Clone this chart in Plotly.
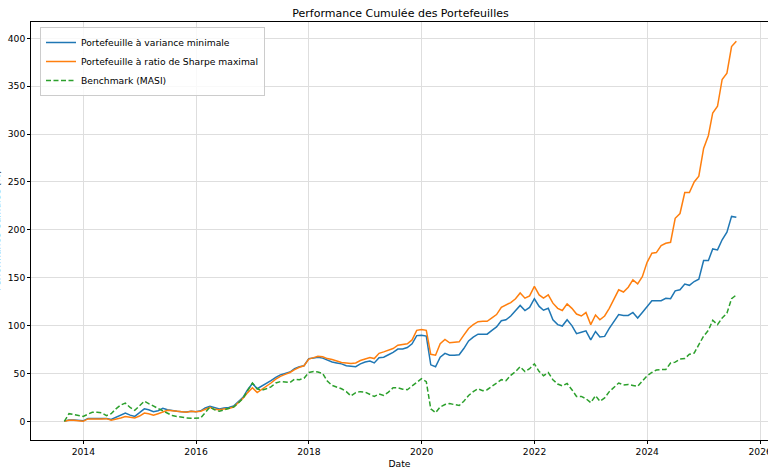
import pandas as pd
import plotly.graph_objects as go

# Monthly dates (month ends), Aug 2013 -> Jul 2025
dates = pd.date_range(start="2013-08-01", periods=144, freq="MS") + pd.offsets.MonthEnd(0)

min_variance = [
    0, 1.5, 1.5, 1, 0.5, 3, 3, 2.5, 2.5, 3, 2, 4, 6, 8.7, 6.5, 5.2, 9, 13, 12, 10,
    11, 13.5, 12, 11, 10.5, 10, 9.7, 10.5, 10,
    11, 14, 15.7, 14, 13, 14, 14.5, 16, 20, 25, 33, 39.5, 34, 36.5, 39, 42.5, 46,
    48.5, 50, 51.5, 55, 57, 58, 65.5,
    66, 67, 66, 64, 62, 61, 60, 58, 57.5, 57, 60, 62, 63, 61, 66.5, 67, 69.5, 72,
    75.5, 75.5, 77, 81, 89.5, 90, 89, 59, 57,
    67, 71, 69, 69, 69.5, 76, 84, 88, 91, 91, 91, 95, 98.6, 105, 106, 110, 116, 121,
    115.7, 119, 128, 120, 116, 118, 106, 101, 99.5, 106, 100, 91.5, 93, 94.5, 85,
    93.8, 88, 88.7, 97, 104.3, 111.5, 110.6, 110.6, 113.7, 107.8, 113.7, 120, 126,
    126, 126, 128.5, 128, 136.3, 137.4, 143.3, 142, 146, 148.5, 168, 168, 180, 179,
    189.6, 197.6, 214, 213,
]

max_sharpe = [
    0, 1, 1, 0.5, 0, 2.5, 2.8, 2.5, 2.5, 2.8, 1.2, 2, 3.5, 4.9, 4, 3.5, 5.5, 8.7, 8,
    6.3, 8, 10, 11.5, 11, 10.5, 10, 9.5, 10.4, 10,
    10.5, 12.5, 14.6, 12.5, 12, 13, 13.5, 15, 19, 24, 30, 35, 30, 33, 36, 40, 44,
    47, 49, 51, 54, 56.5, 58, 65,
    66.5, 68, 67.5, 65.5, 64.5, 63, 61.5, 61, 60.5, 61, 63.5, 65, 66.5, 65.5, 71,
    72.5, 74, 76, 79.5, 80, 81, 85, 95, 96, 95, 70, 69,
    81, 85.5, 82, 82.5, 83, 90, 97, 101, 104, 104.5, 104.5, 108, 111.5, 119, 121.6,
    124, 128, 134, 128.6, 131, 141, 132, 128.6, 132, 123.4, 118, 115.7, 122.7, 118,
    112, 110, 113.6, 101, 111, 106, 110, 118, 127, 137.3, 135, 140, 147.7, 143.5,
    151, 166, 175.5, 176.2, 183.5, 186, 187, 212, 217, 239, 239, 250, 256, 285,
    298.5, 322, 329, 357, 363.5, 391.3, 397,
]

benchmark = [
    0, 8, 7, 6, 5, 7.5, 9.4, 9.5, 9, 6, 8, 13, 17, 19, 14.5, 11.5, 16, 21, 18.5, 16,
    14, 11, 8.5, 6, 5, 4, 3.5, 3.2, 3.5,
    3.5, 9, 15, 12, 10.5, 12, 13.5, 15, 19, 24, 32, 40, 34, 32.5, 34, 36, 40, 41.5,
    41, 40.5, 44, 43.5, 45, 51,
    52, 51.5, 50, 42, 37.5, 35.5, 34, 31, 26.5, 30, 31, 30.5, 28, 26, 28.5, 27,
    30.5, 35, 35, 33.5, 33, 37, 41, 44.5, 41.5, 13, 9,
    15, 17.5, 18.5, 17.5, 16.5, 21, 27, 31, 34, 32, 33, 36.6, 40, 43.5, 42.5, 48,
    52, 57, 52, 55, 60, 52, 47.6, 51, 43.4, 39, 37, 39.5, 33, 26, 26, 23.6, 19.5,
    26.8, 21, 24.5, 31, 35.8, 40, 38, 38.5, 37.5, 36.5, 42, 47.5, 51, 53.5, 54, 54,
    60.9, 61.8, 65, 65.5, 70, 71.3, 80, 89, 95, 105.5, 101, 107.8, 113, 128, 132,
]

series_names = [
    "Portefeuille à variance minimale",
    "Portefeuille à ratio de Sharpe maximal",
    "Benchmark (MASI)",
]
y_ticks = [0, 50, 100, 150, 200, 250, 300, 350, 400]
x_ticks = ["2014-01-01", "2016-01-01", "2018-01-01", "2020-01-01",
           "2022-01-01", "2024-01-01", "2026-01-01"]
x_tick_text = ["2014", "2016", "2018", "2020", "2022", "2024", "2026"]

FONT = "DejaVu Sans"
W, H = 768, 475
L, R, T, B = 31, 0, 22, 35

fig = go.Figure()
fig.add_trace(go.Scatter(x=dates, y=min_variance, mode="lines", name=series_names[0],
                         line=dict(color="#1f77b4", width=1.5)))
fig.add_trace(go.Scatter(x=dates, y=max_sharpe, mode="lines", name=series_names[1],
                         line=dict(color="#ff7f0e", width=1.5)))
fig.add_trace(go.Scatter(x=dates, y=benchmark, mode="lines", name=series_names[2],
                         line=dict(color="#2ca02c", width=1.5, dash="5px,2.5px")))

axis_common = dict(
    showgrid=True, gridcolor="#dedede", gridwidth=0.8,
    showline=True, linecolor="black", linewidth=0.8, mirror=True,
    ticks="outside", ticklen=3, tickwidth=0.8, tickcolor="black",
    tickfont=dict(family=FONT, size=9.2, color="black"),
    zeroline=False, automargin=False, ticklabeloverflow="allow",
)

fig.update_layout(
    width=W, height=H,
    margin=dict(l=L, r=R, t=T, b=B, pad=0),
    paper_bgcolor="white", plot_bgcolor="white",
    font=dict(family=FONT, size=9.2, color="black"),
    title=dict(text="Performance Cumulée des Portefeuilles",
               font=dict(family=FONT, size=11, color="black"),
               x=400.5 / W, xanchor="center", xref="container",
               y=1 - 13 / H, yanchor="middle"),
    xaxis=dict(axis_common, type="date",
               range=["2013-01-27", "2026-02-21"],
               tickmode="array", tickvals=x_ticks, ticktext=x_tick_text,
               title=dict(text="Date", font=dict(family=FONT, size=9.2, color="black"),
                          standoff=4)),
    yaxis=dict(axis_common, range=[-19.5, 417],
               tickmode="array", tickvals=y_ticks,
               ticktext=[str(v) for v in y_ticks]),
    legend=dict(x=(40 - L) / (W - L - R), y=1 - (27 - T) / (H - T - B),
                xanchor="left", yanchor="top",
                bgcolor="rgba(255,255,255,0.8)", bordercolor="#cccccc", borderwidth=1,
                font=dict(family=FONT, size=9.2, color="black"),
                tracegroupgap=0),
    showlegend=True,
)

# y-axis label (partially clipped at the left edge, as in the reference)
fig.add_annotation(text="Performance Cumulée (%)", textangle=-90,
                   xref="paper", yref="paper",
                   x=(3.6 - L) / (W - L - R), y=0.5,
                   xanchor="right", yanchor="middle", showarrow=False,
                   font=dict(family=FONT, size=9.2, color="black"))

fig.write_html(
    "out.html",
    config={"displayModeBar": False},
    post_script="document.body.style.margin='0';document.body.style.padding='0';",
)
